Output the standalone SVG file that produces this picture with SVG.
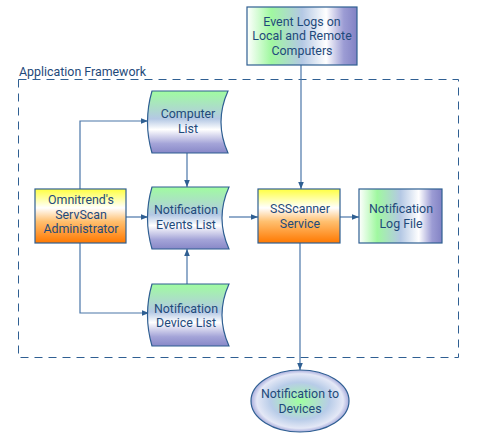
<svg xmlns="http://www.w3.org/2000/svg" width="477" height="440" viewBox="0 0 477 440">
<defs>
<linearGradient id="gH" x1="0" y1="0" x2="1" y2="0">
<stop offset="0" stop-color="#ffffff"/>
<stop offset="0.22" stop-color="#a0f8a0"/>
<stop offset="0.5" stop-color="#b4c8e4"/>
<stop offset="0.72" stop-color="#ffffff"/>
<stop offset="0.88" stop-color="#9c9cd4"/>
<stop offset="1" stop-color="#8282c4"/>
</linearGradient>
<linearGradient id="gV" x1="0" y1="0" x2="0" y2="1">
<stop offset="0" stop-color="#a0fca0"/>
<stop offset="0.45" stop-color="#b4c8e4"/>
<stop offset="0.62" stop-color="#ffffff"/>
<stop offset="0.85" stop-color="#a4a4d8"/>
<stop offset="1" stop-color="#8888c8"/>
</linearGradient>
<linearGradient id="gO" x1="0" y1="0" x2="0" y2="1">
<stop offset="0" stop-color="#ffff40"/>
<stop offset="0.35" stop-color="#ffffff"/>
<stop offset="0.6" stop-color="#ffc070"/>
<stop offset="1" stop-color="#ff7800"/>
</linearGradient>
<radialGradient id="gR" cx="0.5" cy="0.5" r="0.5">
<stop offset="0" stop-color="#a0ffa0"/>
<stop offset="0.6" stop-color="#b8cce8"/>
<stop offset="0.88" stop-color="#e4e8f6"/>
<stop offset="1" stop-color="#a8acdc"/>
</radialGradient>
<marker id="ar" viewBox="0 0 10 10" refX="10" refY="5" markerWidth="7" markerHeight="7" markerUnits="userSpaceOnUse" orient="auto">
<path d="M0,1 L10,5 L0,9 Z" fill="#2f5f92"/>
</marker>
<style>
.sh{stroke:#2f5f92;stroke-width:1.2}
.t{font-family:Roboto,"Liberation Sans",sans-serif;font-size:12.4px;fill:#1f4a7a;text-anchor:middle}
.c{fill:none;stroke:#4a76a8;stroke-width:1.2}
</style>
</defs>
<rect width="477" height="440" fill="#ffffff"/>
<g id="framework">
<rect x="18.5" y="79.5" width="440" height="278" fill="none" stroke="#2f5f92" stroke-width="1" stroke-dasharray="8,6"/>
<text x="19" y="76" class="t" style="text-anchor:start">Application Framework</text>
</g>
<g id="connectors">
<path class="c" d="M301,65 V189" marker-end="url(#ar)"/>
<path class="c" d="M300,243 V370" marker-end="url(#ar)"/>
<path class="c" d="M126,217 H148" marker-end="url(#ar)"/>
<path class="c" d="M229,217 H258" marker-end="url(#ar)"/>
<path class="c" d="M340,217 H359" marker-end="url(#ar)"/>
<path class="c" d="M80,189 V121 H148" marker-end="url(#ar)"/>
<path class="c" d="M80,243 V313 H149" marker-end="url(#ar)"/>
<path class="c" d="M187,153 V187" marker-end="url(#ar)"/>
<path class="c" d="M187,284 V249" marker-end="url(#ar)"/>
</g>
<g id="event-logs">
<rect x="247" y="7" width="110" height="58" fill="url(#gH)" class="sh"/>
<text class="t" x="302" y="25.7">Event Logs on</text>
<text class="t" x="302" y="40.4">Local and Remote</text>
<text class="t" x="302" y="55.1">Computers</text>
</g>
<g id="computer-list">
<path d="M152,91 H228 Q214,122 228,153 H152 Q143,122 152,91 Z" fill="url(#gV)" class="sh"/>
<text class="t" x="188" y="118">Computer</text>
<text class="t" x="188" y="132.7">List</text>
</g>
<g id="events-list">
<path d="M152,187 H229 Q215,218 229,249 H152 Q143,218 152,187 Z" fill="url(#gV)" class="sh"/>
<text class="t" x="186" y="214.3">Notification</text>
<text class="t" x="186" y="229">Events List</text>
</g>
<g id="device-list">
<path d="M152,284 H229 Q215,315 229,346 H152 Q143,315 152,284 Z" fill="url(#gV)" class="sh"/>
<text class="t" x="186" y="312.7">Notification</text>
<text class="t" x="186" y="327.4">Device List</text>
</g>
<g id="administrator">
<rect x="35" y="189" width="91" height="54" fill="url(#gO)" class="sh"/>
<text class="t" x="81" y="204">Omnitrend's</text>
<text class="t" x="81" y="218.7">ServScan</text>
<text class="t" x="81" y="233.4">Administrator</text>
</g>
<g id="scanner">
<rect x="258" y="189" width="82" height="54" fill="url(#gO)" class="sh"/>
<text class="t" x="300" y="213">SSScanner</text>
<text class="t" x="300" y="227.7">Service</text>
</g>
<g id="log-file">
<rect x="359" y="189" width="83" height="54" fill="url(#gH)" class="sh"/>
<text class="t" x="401" y="213">Notification</text>
<text class="t" x="401" y="227.7">Log File</text>
</g>
<g id="devices">
<ellipse cx="300" cy="401" rx="49" ry="31" fill="url(#gR)" class="sh"/>
<text class="t" x="300" y="398">Notification to</text>
<text class="t" x="300" y="412.7">Devices</text>
</g>
</svg>
